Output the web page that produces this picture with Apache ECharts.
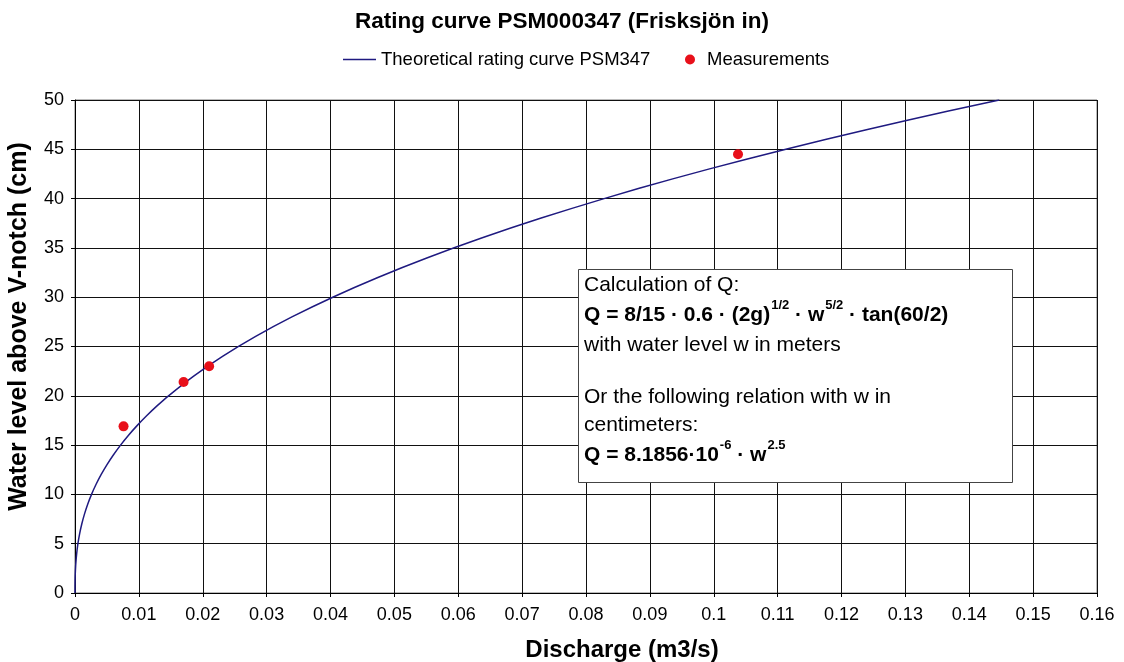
<!DOCTYPE html>
<html>
<head>
<meta charset="utf-8">
<script src="https://cdn.jsdelivr.net/npm/echarts@6/dist/echarts.min.js"></script>
<style>html,body{margin:0;padding:0;background:#fff}#c{width:1124px;height:662px}</style>
</head>
<body>
<div id="c"></div>
<script>
// Theoretical rating curve: water level (cm) and discharge (m3/s)
const curveW = [0, 0.5, 1, 1.5, 2, 3, 4, 5, 6, 7, 8, 9, 10, 11, 12, 13, 14, 15, 16, 17, 18, 19, 20, 22, 24, 26, 28, 30, 32, 34, 36, 38, 40, 42, 44, 46, 48, 50];
const curveQ = [0, 0.0000014, 0.0000082, 0.0000226, 0.0000463, 0.0001276, 0.0002619, 0.0004576, 0.0007218, 0.0010612, 0.0014818, 0.0019891, 0.0025885, 0.0032849, 0.0040832, 0.0049875, 0.0060030, 0.0071330, 0.0083821, 0.0097540, 0.0112520, 0.0128810, 0.0146430, 0.0185830, 0.0230980, 0.0282150, 0.0339580, 0.0403510, 0.0474160, 0.0551760, 0.0636510, 0.0728640, 0.0828320, 0.0935750, 0.1051170, 0.1174750, 0.1306650, 0.1447020];
// Measurements
const measQ = [0.0076, 0.0170, 0.0210, 0.1038];
const measW = [16.9, 21.4, 23.0, 44.5];
// Axis ticks
const xTicks = [0, 0.01, 0.02, 0.03, 0.04, 0.05, 0.06, 0.07, 0.08, 0.09, 0.1, 0.11, 0.12, 0.13, 0.14, 0.15, 0.16];
const yTicks = [0, 5, 10, 15, 20, 25, 30, 35, 40, 45, 50];

const titleText = 'Rating curve PSM000347 (Frisksjön in)';
const curveName = 'Theoretical rating curve PSM347';
const measName = 'Measurements';

const FONT = 'Liberation Sans, Arial, sans-serif';
const chart = echarts.init(document.getElementById('c'), null, {renderer: 'canvas'});

const boxLines = [
  'Calculation of Q:',
  '{bb|Q = 8/15 · 0.6 · (2g)}{s|1/2}{bb| · w}{s|5/2}{bb| · tan(60/2)}',
  'with water level w in meters',
  '{gap| }',
  'Or the following relation with w in',
  'centimeters:',
  '{bb|Q = 8.1856·10}{s|-6}{bb| · w}{s|2.5}'
];

chart.setOption({
  backgroundColor: '#fff',
  animation: false,
  title: {
    text: titleText, left: 'center', top: 5, padding: [5, 5, 5, 19],
    textStyle: {fontFamily: FONT, fontSize: 22.5, fontWeight: 'bold', color: '#000'}
  },
  legend: [
    {
      data: [{name: curveName, icon: 'path://M0,0 L1,0 L1,0.05 L0,0.05 Z'}],
      left: 338, top: 45, itemWidth: 33, itemHeight: 14, itemGap: 8,
      textStyle: {fontFamily: FONT, fontSize: 18.5, color: '#000'}
    },
    {
      data: [{name: measName, icon: 'circle'}],
      left: 680, top: 45, itemWidth: 10, itemHeight: 14, itemGap: 8,
      textStyle: {fontFamily: FONT, fontSize: 18.5, color: '#000', padding: [0, 0, 0, 7]}
    }
  ],
  grid: {left: 75, right: 27, top: 100, bottom: 69, containLabel: false, outerBoundsMode: 'none', show: true, borderColor: '#777', borderWidth: 1},
  xAxis: {
    type: 'value', min: xTicks[0], max: xTicks[xTicks.length - 1], interval: 0.01,
    name: 'Discharge (m3/s)', nameLocation: 'middle', nameGap: 45,
    nameTextStyle: {fontFamily: FONT, fontSize: 24, fontWeight: 'bold', color: '#000', padding: [0, 0, 0, 72]},
    axisLine: {onZero: false, lineStyle: {color: '#000', width: 1}},
    axisTick: {show: true, length: 4, lineStyle: {color: '#000'}},
    axisLabel: {fontFamily: FONT, fontSize: 18, color: '#000', margin: 13,
      formatter: v => String(parseFloat(v.toFixed(2)))},
    splitLine: {show: true, lineStyle: {color: '#111', width: 1}}
  },
  yAxis: {
    type: 'value', min: yTicks[0], max: yTicks[yTicks.length - 1], interval: 5,
    name: 'Water level above V-notch (cm)', nameLocation: 'middle', nameGap: 43, nameRotate: 90,
    nameTextStyle: {fontFamily: FONT, fontSize: 25, fontWeight: 'bold', color: '#000', padding: [0, 0, 0, 40]},
    axisLine: {show: true, onZero: false, lineStyle: {color: '#000', width: 1}},
    axisTick: {show: true, length: 4, lineStyle: {color: '#000'}},
    axisLabel: {fontFamily: FONT, fontSize: 18, color: '#000', margin: 11},
    splitLine: {show: true, lineStyle: {color: '#111', width: 1}}
  },
  series: [
    {
      name: curveName, type: 'line', symbol: 'none', smooth: 0.3,
      data: curveQ.map((q, i) => [q, curveW[i]]),
      lineStyle: {color: '#1f1a80', width: 1.5}, itemStyle: {color: '#1f1a80'}, z: 3
    },
    {
      name: measName, type: 'scatter', symbol: 'circle', symbolSize: 10,
      data: measQ.map((q, i) => [q, measW[i]]),
      itemStyle: {color: '#e8101a', opacity: 1}, z: 4
    }
  ],
  graphic: [
    {type: 'rect', left: 578, top: 269, z: 100,
     shape: {width: 434, height: 213},
     style: {fill: '#fff', stroke: '#444', lineWidth: 1}},
    {type: 'text', left: 584, top: 271, z: 101,
     style: {
       text: boxLines.join('\n'),
       fontFamily: FONT, fontSize: 21, lineHeight: 28, fill: '#000',
       rich: {
         bb: {fontFamily: FONT, fontSize: 21, fontWeight: 'bold', lineHeight: 32, fill: '#000'},
         s: {fontFamily: FONT, fontSize: 13, fontWeight: 'bold', verticalAlign: 'top', lineHeight: 14, padding: [0, 0, 0, 1], fill: '#000'},
         gap: {fontSize: 10, lineHeight: 24}
       }
     }}
  ]
});
</script>
</body>
</html>
